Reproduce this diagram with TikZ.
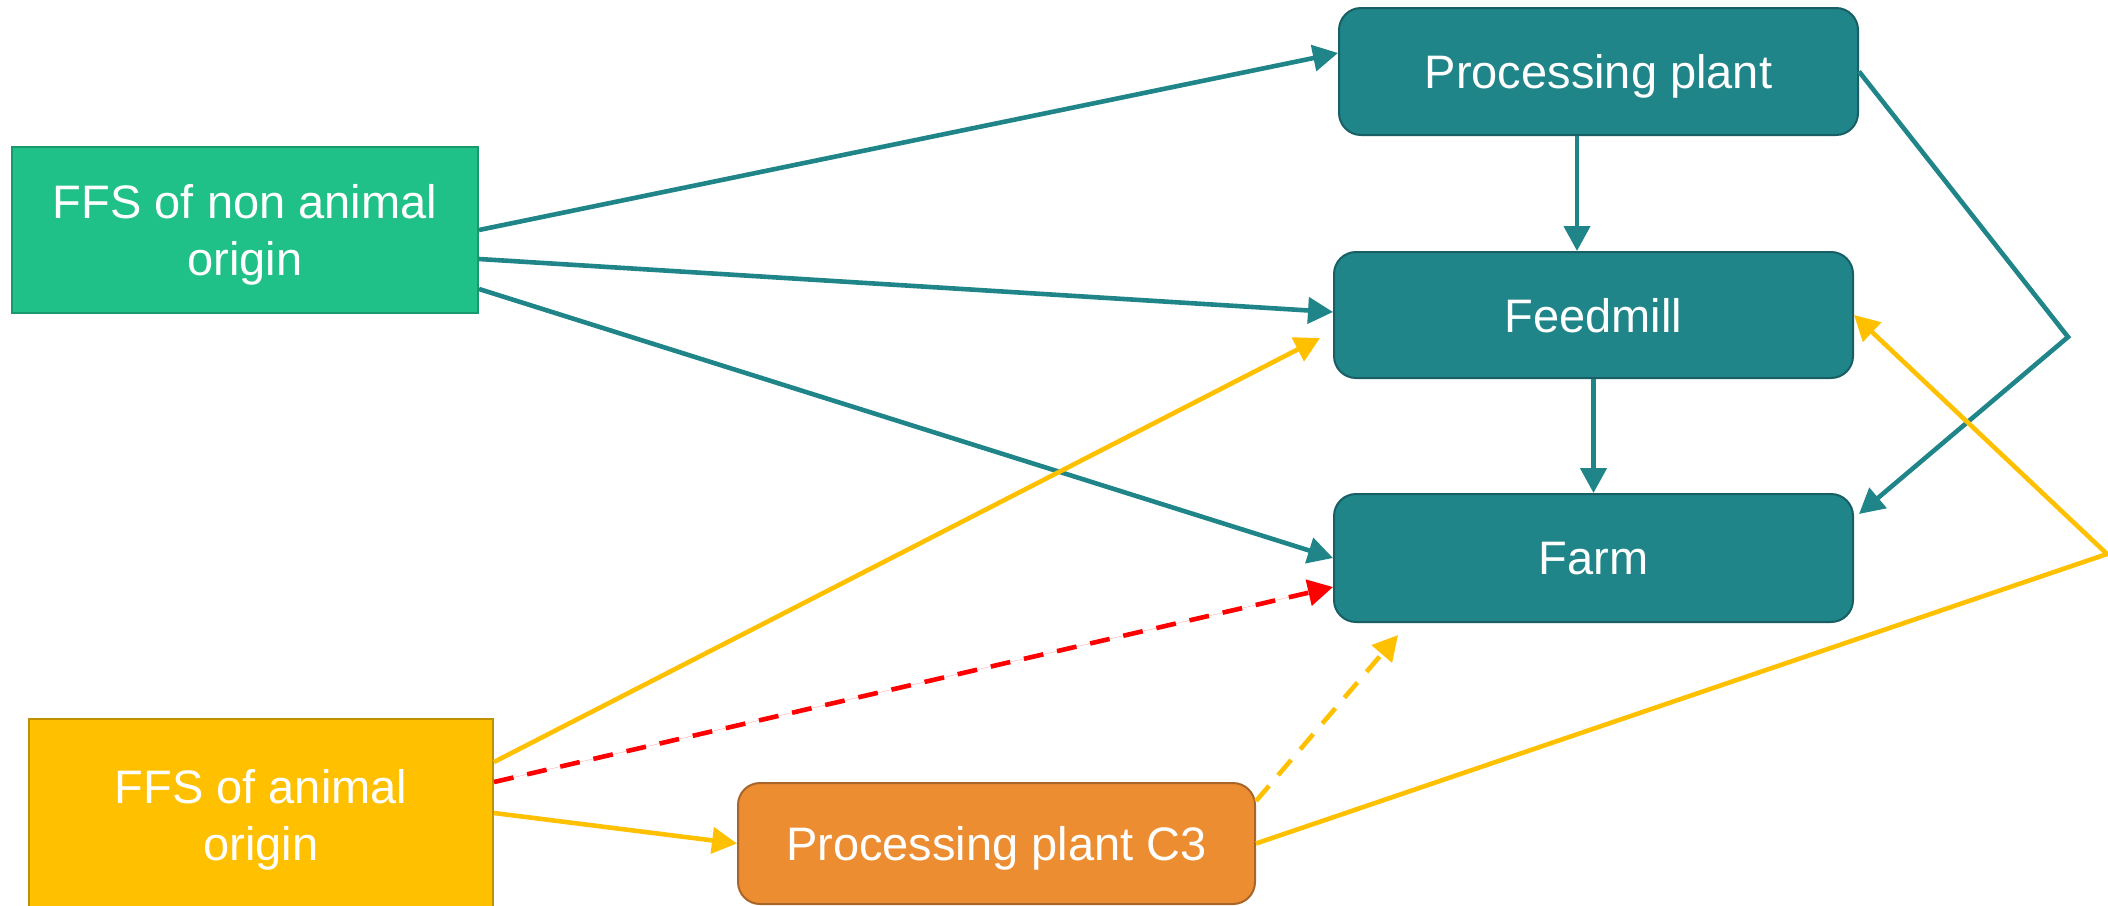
\documentclass[tikz,border=0pt]{standalone}
\usepackage{fontspec}
\setmainfont{Liberation Sans}
\usetikzlibrary{arrows.meta,calc}
\definecolor{tealfill}{HTML}{1F8589}
\definecolor{tealdraw}{HTML}{175F64}
\definecolor{greenfill}{HTML}{20C189}
\definecolor{greendraw}{HTML}{1A9A6C}
\definecolor{yellowfill}{HTML}{FFC000}
\definecolor{yellowdraw}{HTML}{BF9000}
\definecolor{orangefill}{HTML}{ED8D31}
\definecolor{orangedraw}{HTML}{A8652A}
\definecolor{tealline}{HTML}{1F8589}
\definecolor{yellowline}{HTML}{FFC000}
\definecolor{redline}{HTML}{FF0000}
\begin{document}
\begin{tikzpicture}[x=1pt,y=-1pt,
  box/.style={draw, line width=2pt, text=white, font=\fontsize{47}{57}\selectfont, align=center, inner sep=0pt, text depth=0pt},
  tealbox/.style={box, rounded corners=22pt, fill=tealfill, draw=tealdraw, minimum width=519pt},
  greenbox/.style={box, fill=greenfill, draw=greendraw},
  yellowbox/.style={box, fill=yellowfill, draw=yellowdraw},
  orangebox/.style={box, rounded corners=22pt, fill=orangefill, draw=orangedraw},
  conn/.style={line width=4.6pt, -{Triangle[length=25pt,width=26pt]}},
  tealconn/.style={conn, draw=tealline},
  yellowconn/.style={conn, draw=yellowline},
  dashconn/.style={dash pattern=on 20pt off 14pt},
]
\useasboundingbox (0,0) rectangle (2108,905);
\clip (0,0) rectangle (2108,905);

% nodes
\node[tealbox, minimum height=127pt] (pp) at (1598.5,71.5) {Processing plant};
\node[tealbox, minimum height=126pt] (fm) at (1593.5,315) {Feedmill};
\node[tealbox, minimum height=128pt] (farm) at (1593.5,558) {Farm};
\node[greenbox, minimum width=466pt, minimum height=166pt] (ffsn) at (245,230) {FFS of non animal\\origin};
\node[yellowbox, minimum width=464pt, minimum height=192pt] (ffsa) at (261,815) {FFS of animal\\origin};
\node[orangebox, minimum width=517pt, minimum height=121pt] (c3) at (996.5,843.5) {Processing plant C3};

% helper coordinates
\coordinate (tcorner) at (2068,337);
\coordinate (ycorner) at (2107,554);
\coordinate (ppb) at ([xshift=-21.5pt]pp.south);

% teal connectors
\draw[tealconn] (ffsn.east) -- ([yshift=18.5pt]pp.west);
\draw[tealconn] ([yshift=-29pt]ffsn.east) -- ([yshift=3pt]fm.west);
\draw[tealconn] ([yshift=-59pt]ffsn.east) -- (farm.west);
\draw[tealconn] (ppb) -- (ppb |- fm.north);
\draw[tealconn] (fm.south) -- (farm.north);
\draw[tealconn] (pp.east) -- (tcorner) -- ([xshift=5pt,yshift=-21pt]farm.north east);

% yellow / red connectors
\draw[yellowconn] ([yshift=53pt]ffsa.east) -- ([xshift=-13pt,yshift=-23pt]fm.west);
\draw[conn, draw=redline, fill=redline, dashconn] ([yshift=33pt]ffsa.east) -- ([yshift=-29pt]farm.west);
\draw[yellowconn] ([yshift=2pt]ffsa.east) -- (c3.west);
\draw[yellowconn, dashconn] ([yshift=-19pt]c3.north east) -- ([xshift=65pt,yshift=-12pt]farm.south west);
\draw[yellowconn] (c3.east) -- (ycorner) -- (fm.east);
\end{tikzpicture}
\end{document}
